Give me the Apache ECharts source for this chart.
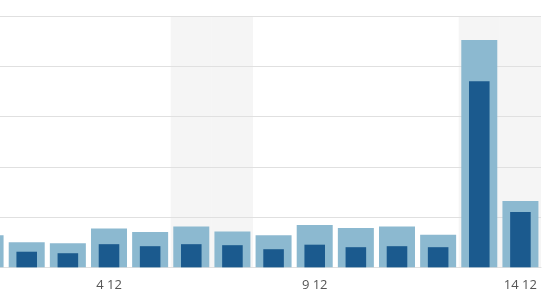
<!DOCTYPE html>
<html>
<head>
<meta charset="utf-8">
<script src="https://cdn.jsdelivr.net/npm/echarts@6/dist/echarts.min.js"></script>
<style>
html,body{margin:0;padding:0;background:#fff;overflow:hidden;}
#c{position:absolute;left:-35px;top:0;width:589px;height:298px;}
</style>
</head>
<body>
<div id="c"></div>
<script>
const categories = ['1 12','2 12','3 12','4 12','5 12','6 12','7 12','8 12','9 12','10 12','11 12','12 12','13 12','14 12'];
const totalValues = [32, 25, 24, 38.5, 35, 40.5, 35.5, 32, 42, 39, 40.5, 32.5, 226, 66];
const innerValues = [18, 15.5, 14, 23, 21, 23, 22, 18, 22.5, 20, 21, 20, 185, 55];
const weekendBand = [null, null, null, null, null, 250, 250, null, null, null, null, null, 250, 250];

const chart = echarts.init(document.getElementById('c'));
chart.setOption({
  animation: false,
  grid: {left: 0, right: 13, top: 16, bottom: 30.7, containLabel: false},
  xAxis: [
    {
      type: 'category', data: categories, boundaryGap: true,
      axisLine: {show: true, lineStyle: {color: '#dddddd'}},
      axisTick: {show: false},
      axisLabel: {
        interval: function (idx) { return idx % 5 === 3; },
        color: '#555', fontFamily: 'Open Sans', fontSize: 13, margin: 11
      },
      splitLine: {show: false}
    },
    {type: 'category', data: categories, show: false, boundaryGap: true},
    {type: 'category', data: categories, show: false, boundaryGap: true}
  ],
  yAxis: {
    type: 'value', min: 0, max: 250, interval: 50, z: 1,
    axisLabel: {show: false}, axisLine: {show: false}, axisTick: {show: false},
    splitLine: {lineStyle: {color: '#e0e0e0', width: 1}}
  },
  series: [
    {type: 'bar', xAxisIndex: 2, data: weekendBand, barWidth: '100%', itemStyle: {color: '#f5f5f5'}, z: 0, silent: true},
    {type: 'bar', xAxisIndex: 0, data: totalValues, barWidth: '87.5%', itemStyle: {color: '#8cb9d0'}, z: 2},
    {type: 'bar', xAxisIndex: 1, data: innerValues, barWidth: '50%', itemStyle: {color: '#1b5a8e'}, z: 3}
  ]
});
</script>
</body>
</html>
